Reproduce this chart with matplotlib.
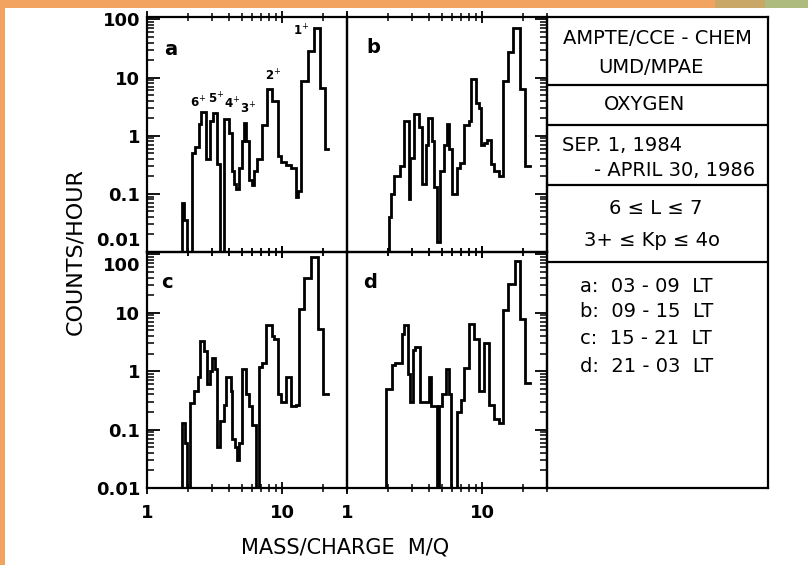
import numpy as np
import matplotlib
matplotlib.use("Agg")
import matplotlib.pyplot as plt
from matplotlib.patches import Rectangle
from matplotlib.transforms import ScaledTranslation
from matplotlib.ticker import FixedLocator, LogLocator, NullFormatter

# ---------------- data (M/Q bin edges and counts/hour) ----------------
edges_a = [1.81, 1.88, 1.98, 2.15, 2.28, 2.44, 2.52, 2.73, 2.94, 3.06, 3.30, 3.49,
           3.69, 4.02, 4.22, 4.38, 4.57, 4.77, 5.06, 5.20, 5.42, 5.66, 5.93, 6.17,
           6.54, 7.04, 7.76, 8.45, 9.26, 9.80, 10.6, 11.6, 12.6, 13.0, 13.7, 15.4,
           17.1, 18.8, 20.5, 21.7]
counts_a = [0.07, 0.035, 0, 0.5, 0.63, 1.6, 2.6, 0.4, 1.8, 2.5, 0.33, 0,
            1.9, 1.1, 0.25, 0.15, 0.12, 0.28, 0.82, 1.65, 0.82, 0.17, 0.14, 0.25,
            0.4, 1.5, 6.3, 4.0, 0.45, 0.35, 0.31, 0.28, 0.09, 0.11, 8.7, 29,
            70, 6.6, 0.6]

edges_b = [2.03, 2.10, 2.21, 2.48, 2.62, 2.86, 2.94, 3.11, 3.39, 3.59, 3.80, 3.98,
           4.26, 4.38, 4.65, 4.85, 5.20, 5.44, 5.66, 6.00, 6.54, 6.84, 7.33, 7.98,
           8.23, 8.93, 9.47, 9.74, 10.3, 10.9, 11.6, 12.2, 13.3, 14.1, 15.4, 16.8,
           18.8, 20.5, 22.3]
counts_b = [0.04, 0.1, 0.2, 0.3, 1.8, 0.08, 0.42, 2.4, 1.4, 0.15, 0.7,
            2.0, 0.8, 0.13, 0.015, 0.25, 0.7, 1.6, 0.6, 0.1, 0.28, 0.34, 1.5,
            1.8, 9.5, 3.6, 3.0, 0.7, 0.75, 0.85, 0.33, 0.25, 0.2, 8.6, 27,
            70, 6.3, 0.3]

edges_c = [1.81, 1.92, 1.99, 2.09, 2.21, 2.37, 2.48, 2.65, 2.78, 2.90, 3.03, 3.20,
           3.30, 3.49, 3.69, 3.80, 4.14, 4.26, 4.43, 4.60, 4.77, 5.06, 5.35, 5.66,
           6.00, 6.35, 6.72, 7.12, 7.54, 8.45, 8.69, 9.22, 9.75, 10.6, 11.6, 12.6,
           13.3, 14.5, 16.3, 18.3, 19.9, 21.7]
counts_c = [0.13, 0.06, 0, 0.28, 0.46, 0.8, 3.3, 2.2, 0.6, 1.0, 1.7,
            1.1, 0.05, 0.14, 0.26, 0.8, 0.45, 0.07, 0.05, 0.03, 0.06, 1.1, 0.4,
            0.25, 0.12, 0, 1.2, 1.4, 6.1, 4.0, 3.5, 0.4, 0.3, 0.8, 0.25,
            0.26, 11.7, 40, 89, 5.3, 0.41]

edges_d = [1.95, 2.15, 2.28, 2.55, 2.65, 2.81, 2.94, 3.08, 3.20, 3.49, 3.69, 4.02,
           4.19, 4.38, 4.65, 4.80, 5.06, 5.35, 5.66, 5.85, 6.54, 6.92, 7.33, 7.98,
           8.69, 9.47, 10.3, 11.2, 12.2, 13.3, 14.1, 15.4, 17.3, 19.1, 20.7, 22.3]
counts_d = [0.5, 1.3, 1.4, 4.4, 6.3, 0.9, 0.3, 2.3, 2.6, 0.3, 0.3,
            0.8, 0.25, 0.25, 0, 0.25, 0.4, 1.1, 0.4, 0, 0.2, 0.32, 1.15,
            6.5, 3.6, 0.45, 3.0, 0.26, 0.15, 0.13, 11, 31, 78, 7.9, 0.62]

panel_names = ["a", "b", "c", "d"]
ion_charges = ["6", "5", "4", "3", "2", "1"]
ion_x = [2.39, 3.26, 4.25, 5.54, 8.5, 13.7]
ion_y = [3.7, 4.3, 3.5, 2.9, 10.6, 63]

yticks = [0.01, 0.1, 1, 10, 100]
ytick_labels = ["0.01", "0.1", "1", "10", "100"]
xticks = [1, 10]
xtick_labels = ["1", "10"]

info_title = ["AMPTE/CCE - CHEM", "UMD/MPAE"]
info_species = "OXYGEN"
info_dates = ["SEP. 1, 1984", "- APRIL 30, 1986"]
info_cond = ["6 ≤ L ≤ 7", "3+ ≤ Kp ≤ 4o"]
info_lt = ["a:  03 - 09  LT", "b:  09 - 15  LT", "c:  15 - 21  LT", "d:  21 - 03  LT"]

# ---------------- figure ----------------
W, H = 808, 565
fig = plt.figure(figsize=(W / 100, H / 100), dpi=100, facecolor="#F2A35F")
fig.patches.append(Rectangle((5 / W, 0), 1, 1 - 8 / H, transform=fig.transFigure,
                             facecolor="white", edgecolor="none", zorder=-10))
fig.patches.append(Rectangle((715 / W, 1 - 8 / H), 50 / W, 8 / H, transform=fig.transFigure,
                             facecolor="#C9A867", edgecolor="none", zorder=-10))
fig.patches.append(Rectangle((765 / W, 1 - 8 / H), 43 / W, 8 / H, transform=fig.transFigure,
                             facecolor="#AEBB7E", edgecolor="none", zorder=-10))


def rect(x0, y0, x1, y1):
    return [x0 / W, 1 - y1 / H, (x1 - x0) / W, (y1 - y0) / H]


boxes = {"a": (147, 17, 347, 252), "b": (347, 17, 547, 252),
         "c": (147, 252, 347, 488), "d": (347, 252, 547, 488)}
data = {"a": (edges_a, counts_a), "b": (edges_b, counts_b),
        "c": (edges_c, counts_c), "d": (edges_d, counts_d)}
label_pos = {"a": (0.12, 0.86), "b": (0.13, 0.87), "c": (0.10, 0.87), "d": (0.115, 0.87)}

LW = 1.6
for name in panel_names:
    ax = fig.add_axes(rect(*boxes[name]))
    ax.patch.set_alpha(0)
    e, c = data[name]
    e = np.asarray(e, float)
    c = np.asarray(c, float)
    c = np.where(c <= 0, 1e-4, c)
    x = np.concatenate([[e[0]], np.repeat(e, 2)[1:-1]])
    y = np.concatenate([[1e-4], np.repeat(c, 2)])
    ax.plot(x, y, color="black", lw=2.0, solid_joinstyle="miter")
    ax.set_xscale("log")
    ax.set_yscale("log")
    ax.set_xlim(1, 30)
    ax.set_ylim(0.01, 110)
    for s in ax.spines.values():
        s.set_linewidth(LW)
    ax.xaxis.set_major_locator(FixedLocator(xticks))
    ax.xaxis.set_minor_locator(LogLocator(base=10, subs=np.arange(2, 10), numticks=10))
    ax.xaxis.set_minor_formatter(NullFormatter())
    ax.yaxis.set_major_locator(FixedLocator(yticks))
    ax.yaxis.set_minor_locator(LogLocator(base=10, subs=np.arange(2, 10), numticks=10))
    ax.yaxis.set_minor_formatter(NullFormatter())
    bottom_row = name in ("c", "d")
    left_col = name in ("a", "c")
    ax.tick_params(axis="x", which="both", direction="inout", top=True, bottom=True,
                   labelbottom=bottom_row, labeltop=False, pad=7)
    ax.tick_params(axis="x", which="major", length=9, width=1.3)
    ax.tick_params(axis="x", which="minor", length=6, width=1.1)
    ax.tick_params(axis="y", which="both", direction="in", left=left_col, right=not left_col,
                   labelleft=left_col, labelright=False, pad=5)
    ax.tick_params(axis="y", which="major", length=9, width=1.3)
    ax.tick_params(axis="y", which="minor", length=5, width=1.1)
    if bottom_row:
        ax.set_xticklabels(xtick_labels, fontsize=13, fontweight="bold")
    if left_col:
        labs = ax.set_yticklabels(ytick_labels, fontsize=13, fontweight="bold")
        if name == "a":
            t = labs[0]
            t.set_transform(t.get_transform() + ScaledTranslation(0, 0.13, fig.dpi_scale_trans))
        if name == "c":
            t = labs[-1]
            t.set_transform(t.get_transform() + ScaledTranslation(0, -0.10, fig.dpi_scale_trans))
    ax.text(*label_pos[name], name, transform=ax.transAxes, fontsize=14,
            fontweight="bold", ha="center", va="center")
    if name == "a":
        for q, xx, yy in zip(ion_charges, ion_x, ion_y):
            ax.text(xx, yy, q + r"$^{+}$", fontsize=8.5, fontweight="bold",
                    ha="center", va="center")

# ---------------- info box ----------------
ib = fig.add_axes(rect(547, 17, 768, 488))
ib.patch.set_alpha(0)
ib.set_xlim(0, 1)
ib.set_ylim(0, 1)
ib.set_xticks([])
ib.set_yticks([])
for s in ib.spines.values():
    s.set_linewidth(LW)
for yy in (0.8556, 0.7707, 0.6433, 0.4798):
    ib.axhline(yy, color="black", lw=LW)

fs = 14
ib.text(0.50, 0.9554, info_title[0], fontsize=fs, ha="center", va="center")
ib.text(0.47, 0.8938, info_title[1], fontsize=fs, ha="center", va="center")
ib.text(0.44, 0.8138, info_species, fontsize=fs, ha="center", va="center")
ib.text(0.068, 0.728, info_dates[0], fontsize=fs, ha="left", va="center")
ib.text(0.94, 0.675, info_dates[1], fontsize=fs, ha="right", va="center")
ib.text(0.49, 0.594, info_cond[0], fontsize=fs, ha="center", va="center")
ib.text(0.475, 0.5265, info_cond[1], fontsize=fs, ha="center", va="center")
for lab, yy in zip(info_lt, (0.4268, 0.375, 0.318, 0.2576)):
    ib.text(0.149, yy, lab, fontsize=fs, ha="left", va="center")

fig.text(75 / W, 1 - 252 / H, "COUNTS/HOUR", rotation=90, fontsize=16,
         ha="center", va="center")
fig.text(345 / W, 1 - 548 / H, "MASS/CHARGE  M/Q", fontsize=15, ha="center", va="center")

fig.savefig("out.png", dpi=100, facecolor=fig.get_facecolor())
